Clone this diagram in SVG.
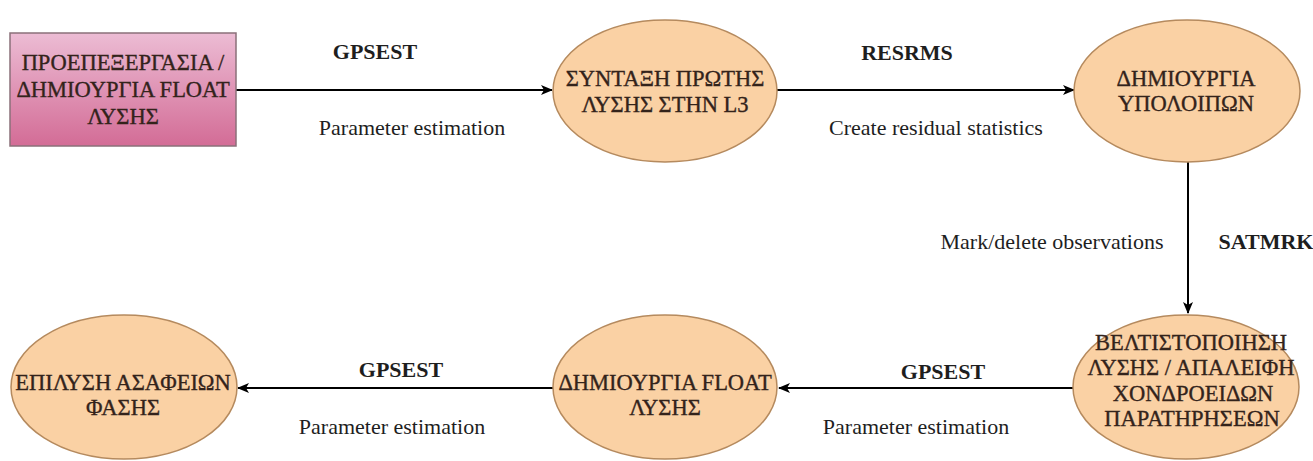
<svg xmlns="http://www.w3.org/2000/svg" width="1313" height="461" viewBox="0 0 1313 461">
<style>
.nt{font-family:"Liberation Serif","Times New Roman",serif;font-size:22.5px;fill:#33231b;stroke:#33231b;stroke-width:0.35;text-anchor:middle}
.lb{font-family:"Liberation Serif","Times New Roman",serif;font-size:22px;fill:#1e1e1e;text-anchor:middle}
.b{font-weight:bold}
.ell{fill:#fad1a4;stroke:#b58a5e;stroke-width:1.5}
.edge{fill:none;stroke:#000;stroke-width:2}
</style>
<defs>
<linearGradient id="pink" x1="0" y1="0" x2="0" y2="1">
<stop offset="0" stop-color="#ecbcd4"/>
<stop offset="1" stop-color="#d36c96"/>
</linearGradient>
<marker id="arr" viewBox="0 0 12 10" refX="11" refY="5" markerWidth="12" markerHeight="10" markerUnits="userSpaceOnUse" orient="auto">
<path d="M0,0 L12,5 L0,10 L3,5 Z" fill="#000"/>
</marker>
</defs>
<rect width="1313" height="461" fill="#fff"/>
<g id="connectors">
<path class="edge" d="M236,90 L552,90" marker-end="url(#arr)"/>
<path class="edge" d="M777,90 L1074,90" marker-end="url(#arr)"/>
<path class="edge" d="M1188,162 L1188,313" marker-end="url(#arr)"/>
<path class="edge" d="M1073,388 L779,388" marker-end="url(#arr)"/>
<path class="edge" d="M553,388 L238,388" marker-end="url(#arr)"/>
</g>
<g id="labels">
<text class="lb b" x="375" y="59">GPSEST</text>
<text class="lb" x="412" y="135">Parameter estimation</text>
<text class="lb b" x="907" y="60">RESRMS</text>
<text class="lb" x="936" y="135">Create residual statistics</text>
<text class="lb" x="1052" y="249">Mark/delete observations</text>
<text class="lb b" x="1266" y="249">SATMRK</text>
<text class="lb b" x="401" y="377">GPSEST</text>
<text class="lb" x="392" y="434">Parameter estimation</text>
<text class="lb b" x="943" y="379">GPSEST</text>
<text class="lb" x="916" y="434">Parameter estimation</text>
</g>
<g id="node-preprocessing">
<rect x="10" y="33" width="226" height="113" fill="url(#pink)" stroke="#8a7079" stroke-width="1.5"/>
<text class="nt" x="123" y="70">ΠΡΟΕΠΕΞΕΡΓΑΣΙΑ /</text>
<text class="nt" x="123" y="97">ΔΗΜΙΟΥΡΓΙΑ FLOAT</text>
<text class="nt" x="123" y="124">ΛΥΣΗΣ</text>
</g>
<g id="node-first-solution">
<ellipse class="ell" cx="665" cy="91" rx="112" ry="71"/>
<text class="nt" x="665" y="86">ΣΥΝΤΑΞΗ ΠΡΩΤΗΣ</text>
<text class="nt" x="665" y="112">ΛΥΣΗΣ ΣΤΗΝ L3</text>
</g>
<g id="node-residuals">
<ellipse class="ell" cx="1187" cy="91" rx="113" ry="71"/>
<text class="nt" x="1186" y="86">ΔΗΜΙΟΥΡΓΙΑ</text>
<text class="nt" x="1186" y="111">ΥΠΟΛΟΙΠΩΝ</text>
</g>
<g id="node-optimisation">
<ellipse class="ell" cx="1186" cy="387" rx="113" ry="72"/>
<text class="nt" x="1191" y="350">ΒΕΛΤΙΣΤΟΠΟΙΗΣΗ</text>
<text class="nt" x="1191" y="375">ΛΥΣΗΣ / ΑΠΑΛΕΙΦΗ</text>
<text class="nt" x="1193" y="401">ΧΟΝΔΡΟΕΙΔΩΝ</text>
<text class="nt" x="1192" y="426">ΠΑΡΑΤΗΡΗΣΕΩΝ</text>
</g>
<g id="node-float">
<ellipse class="ell" cx="665" cy="387" rx="112" ry="72"/>
<text class="nt" x="665" y="390">ΔΗΜΙΟΥΡΓΙΑ FLOAT</text>
<text class="nt" x="665" y="415">ΛΥΣΗΣ</text>
</g>
<g id="node-ambiguity">
<ellipse class="ell" cx="124" cy="387" rx="113" ry="72"/>
<text class="nt" x="123" y="390">ΕΠΙΛΥΣΗ ΑΣΑΦΕΙΩΝ</text>
<text class="nt" x="123" y="415">ΦΑΣΗΣ</text>
</g>
</svg>
